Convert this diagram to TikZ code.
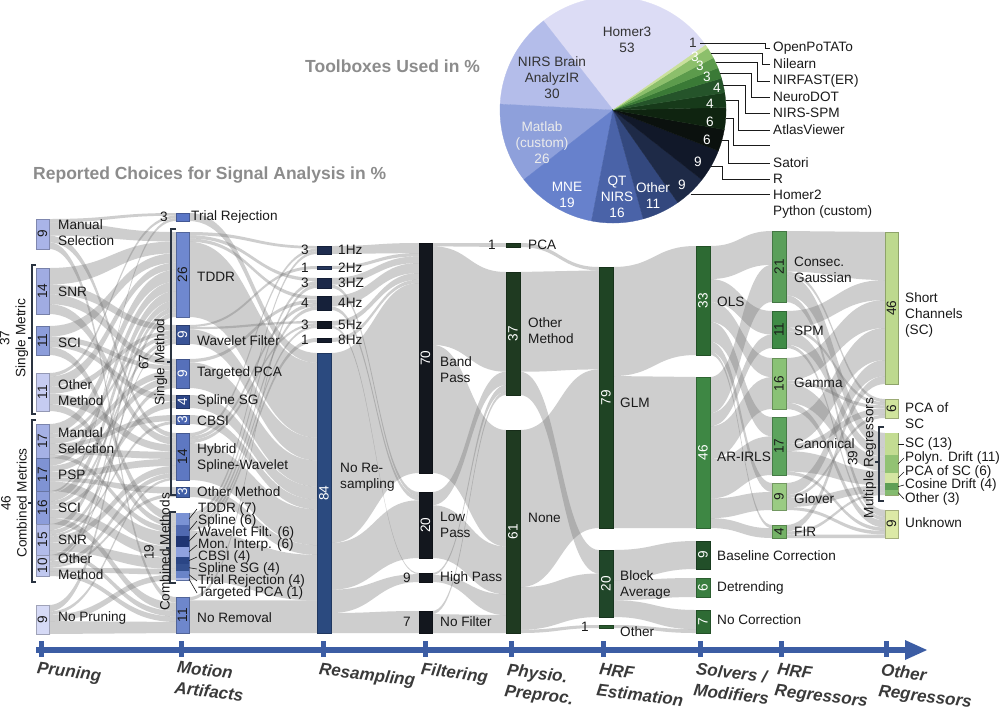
\documentclass[tikz,border=0pt]{standalone}
\usepackage{fontspec}
\setmainfont{Liberation Sans}
\newcommand\lblfont{\fontsize{13.6}{16}\selectfont}
\newif\ifdrawpass
\definecolor{txt}{HTML}{1A1A1A}
\definecolor{ttlgray}{HTML}{8C8C8C}
\definecolor{axisblue}{HTML}{3C5DA4}
\definecolor{axtxt}{HTML}{3A3A3A}
\definecolor{brkc}{HTML}{2A3340}
\definecolor{cMS}{HTML}{A9B4E8}\definecolor{cSNR}{HTML}{A0ACE2}\definecolor{cSCI}{HTML}{8C9DDA}
\definecolor{cOM}{HTML}{C6CCF1}\definecolor{cCMS}{HTML}{A5B1E5}\definecolor{cCPSP}{HTML}{7F93D3}
\definecolor{cCSCI}{HTML}{8C9DDA}\definecolor{cCSNR}{HTML}{B2BCEA}\definecolor{cCOM}{HTML}{C0C8EF}
\definecolor{cNP}{HTML}{D6DAF6}
\definecolor{cTR}{HTML}{5A76C6}\definecolor{cTDDR}{HTML}{6F88CF}\definecolor{cWF}{HTML}{3A5497}
\definecolor{cTPCA}{HTML}{5670BA}\definecolor{cSSG}{HTML}{2C4587}\definecolor{cCBSI}{HTML}{4A66B2}
\definecolor{cHSW}{HTML}{5E78C2}\definecolor{cOMm}{HTML}{4160A8}\definecolor{cNR}{HTML}{6E87CC}
\definecolor{cba}{HTML}{7A92D4}\definecolor{cbb}{HTML}{5069B0}\definecolor{cbc}{HTML}{1F3573}
\definecolor{cbd}{HTML}{8FA2DF}\definecolor{cbe}{HTML}{2A4585}\definecolor{cbf}{HTML}{34508F}
\definecolor{cbg}{HTML}{6A84C8}\definecolor{cbh}{HTML}{A9B6E6}
\definecolor{cRa}{HTML}{1E2C4E}\definecolor{cRb}{HTML}{26365C}\definecolor{cRc}{HTML}{1C2949}
\definecolor{cRd}{HTML}{16213A}\definecolor{cRe}{HTML}{111722}\definecolor{cRf}{HTML}{141B2B}
\definecolor{cNRS}{HTML}{2B4A7F}
\definecolor{cF}{HTML}{13171E}\definecolor{cP}{HTML}{1F3A21}
\definecolor{cGLM}{HTML}{1F4424}\definecolor{cBA}{HTML}{204629}\definecolor{cOth}{HTML}{2A5A2F}
\definecolor{cOLS}{HTML}{2D6A33}\definecolor{cAR}{HTML}{3E8744}\definecolor{cBC}{HTML}{224F29}
\definecolor{cDT}{HTML}{3A7E40}\definecolor{cNC}{HTML}{2E6B34}
\definecolor{cCG}{HTML}{5A9F5A}\definecolor{cSPM}{HTML}{3F8B46}\definecolor{cGAM}{HTML}{8AC276}
\definecolor{cCAN}{HTML}{5CA45D}\definecolor{cGLV}{HTML}{9ACB83}\definecolor{cFIR}{HTML}{74B266}
\definecolor{cSC}{HTML}{BDD98E}\definecolor{cPSC}{HTML}{D0E49D}\definecolor{cUNK}{HTML}{DCE9A6}
\definecolor{cma}{HTML}{C3DC92}\definecolor{cmb}{HTML}{92C273}\definecolor{cmc}{HTML}{D4E6A2}
\definecolor{cmd}{HTML}{5E9E55}\definecolor{cme}{HTML}{84BB6F}
\definecolor{pA}{HTML}{DCDCF5}\definecolor{pB}{HTML}{B4BDEA}\definecolor{pC}{HTML}{8EA0DB}
\definecolor{pD}{HTML}{6781CC}\definecolor{pE}{HTML}{4A63A8}\definecolor{pF}{HTML}{33487E}
\definecolor{pG}{HTML}{1E2A47}\definecolor{pH}{HTML}{111829}\definecolor{pI}{HTML}{0B110E}
\definecolor{pJ}{HTML}{0F2410}\definecolor{pK}{HTML}{173A1A}\definecolor{pL}{HTML}{25542A}
\definecolor{pM}{HTML}{3A7A36}\definecolor{pN}{HTML}{5C9B4C}\definecolor{pO}{HTML}{8CBF6B}
\definecolor{pP}{HTML}{C9E09B}

\newcommand\regnode[5]{%
  \pgfmathsetmacro\rnh{#5-#4}%
  \expandafter\xdef\csname nxl@#1\endcsname{#2}%
  \expandafter\xdef\csname nxr@#1\endcsname{#3}%
  \expandafter\xdef\csname nh@#1\endcsname{\rnh}%
  \expandafter\xdef\csname co@#1\endcsname{#4}%
  \expandafter\xdef\csname ci@#1\endcsname{#4}%
  \expandafter\xdef\csname to@#1\endcsname{0}%
  \expandafter\xdef\csname ti@#1\endcsname{0}}

\newcommand\flow[3]{%
  \ifdrawpass
    \edef\rbA{\csname co@#1\endcsname}%
    \edef\rbB{\csname ci@#2\endcsname}%
    \edef\rbhA{\csname nh@#1\endcsname}%
    \edef\rbhB{\csname nh@#2\endcsname}%
    \edef\rbtA{\csname to@#1\endcsname}%
    \edef\rbtB{\csname ti@#2\endcsname}%
    \edef\rbxA{\csname nxr@#1\endcsname}%
    \edef\rbxB{\csname nxl@#2\endcsname}%
    \pgfmathsetmacro\rbAA{\rbA+#3*\rbhA/\rbtA}%
    \pgfmathsetmacro\rbBB{\rbB+#3*\rbhB/\rbtB}%
    \pgfmathsetmacro\rbxM{(\rbxA+\rbxB)/2}%
    \expandafter\xdef\csname co@#1\endcsname{\rbAA}%
    \expandafter\xdef\csname ci@#2\endcsname{\rbBB}%
    \fill[ribbon] (\rbxA,\rbA) .. controls (\rbxM,\rbA) and (\rbxM,\rbB) .. (\rbxB,\rbB) -- (\rbxB,\rbBB) .. controls (\rbxM,\rbBB) and (\rbxM,\rbAA) .. (\rbxA,\rbAA) -- cycle;
  \else
    \edef\rbtA{\csname to@#1\endcsname}%
    \edef\rbtB{\csname ti@#2\endcsname}%
    \pgfmathsetmacro\rbtAn{\rbtA+#3}%
    \pgfmathsetmacro\rbtBn{\rbtB+#3}%
    \expandafter\xdef\csname to@#1\endcsname{\rbtAn}%
    \expandafter\xdef\csname ti@#2\endcsname{\rbtBn}%
  \fi}

\newcommand\sbar[8]{%
  \ifdrawpass
    \fill[#6, draw=#6!75!black, line width=0.5pt] (#2,#4) rectangle (#3,#5);
    \if\relax\detokenize{#7}\relax\else
      \node[num, text=#8] (#1-n) at ({(#2+#3)/2},{(#4+#5)/2}) {#7};
    \fi
  \else
    \regnode{#1}{#2}{#3}{#4}{#5}%
  \fi}

\newcommand\pieslice[3]{\fill[#3, draw=#3, line width=0.3pt] (613,110) -- plot[domain=#1:#2, samples=40, variable=\t] ({613+113*cos(\t)},{110-113*sin(\t)}) -- cycle;}

\begin{document}
\begin{tikzpicture}[x=1pt,y=-1pt,
  ribbon/.style={fill=black!55, fill opacity=0.35},
  num/.style={rotate=90, font=\lblfont, inner sep=0pt},
  lbl/.style={anchor=west, align=left, font=\lblfont, text=txt, inner sep=0pt},
  lblr/.style={anchor=east, font=\lblfont, text=txt, inner sep=0pt},
  brk/.style={draw=brkc, line width=1.1pt},
  lead/.style={draw=txt, line width=0.6pt},
  rot/.style={rotate=90, align=center, font=\lblfont, text=txt, inner sep=0pt},
  pt/.style={align=center, font=\lblfont, inner sep=0pt},
  pline/.style={draw=txt, line width=0.8pt},
  ttl/.style={anchor=west, font=\fontsize{17.5}{20}\selectfont\bfseries, text=ttlgray, inner sep=0pt},
  axl/.style={font=\fontsize{17}{21}\selectfont\bfseries\itshape, text=axtxt, anchor=north west, rotate=-7, align=left, inner sep=0pt},
  axisc/.style={fill=axisblue}]
\useasboundingbox (0,0) rectangle (1000,713);
\fill[white] (0,0) rectangle (1000,713);

\def\allbars{%
\sbar{ms}{36}{49}{219}{249}{cMS}{9}{txt}
\sbar{snr}{36}{49}{268}{314}{cSNR}{14}{txt}
\sbar{sci}{36}{49}{326}{355}{cSCI}{11}{txt}
\sbar{om}{36}{49}{373}{411}{cOM}{11}{txt}
\sbar{cms}{36}{49}{424}{458}{cCMS}{17}{txt}
\sbar{cpsp}{36}{49}{458}{491}{cCPSP}{17}{txt}
\sbar{csci}{36}{49}{491}{524}{cCSCI}{16}{txt}
\sbar{csnr}{36}{49}{524}{555}{cCSNR}{15}{txt}
\sbar{com}{36}{49}{555}{576}{cCOM}{10}{txt}
\sbar{np}{36}{49}{605}{634}{cNP}{9}{txt}
\sbar{tr}{176}{189}{213}{221}{cTR}{}{}
\sbar{tddr}{176}{189}{232}{317}{cTDDR}{26}{txt}
\sbar{wf}{176}{189}{325}{344}{cWF}{9}{white}
\sbar{tpca}{176}{189}{359}{388}{cTPCA}{9}{white}
\sbar{ssg}{176}{189}{395}{408}{cSSG}{4}{white}
\sbar{cbsi}{176}{189}{415}{424}{cCBSI}{3}{white}
\sbar{hsw}{176}{189}{433}{480}{cHSW}{14}{txt}
\sbar{omm}{176}{189}{487}{497}{cOMm}{3}{white}
\sbar{comb}{176}{189}{513}{580}{cba}{}{}
\sbar{nr}{176}{189}{597}{633}{cNR}{11}{txt}
\sbar{ra}{317}{331}{246}{254}{cRa}{}{}
\sbar{rb}{317}{331}{266}{269}{cRb}{}{}
\sbar{rc}{317}{331}{278}{288}{cRc}{}{}
\sbar{rd}{317}{331}{296}{310}{cRd}{}{}
\sbar{re}{317}{331}{321}{328}{cRe}{}{}
\sbar{rf}{317}{331}{338}{342}{cRf}{}{}
\sbar{nrs}{317}{331}{353}{633}{cNRS}{84}{white}
\sbar{bp}{419}{432}{243}{473}{cF}{70}{white}
\sbar{lp}{419}{432}{492}{558}{cF}{20}{white}
\sbar{hp}{419}{432}{573}{582}{cF}{}{}
\sbar{nf}{419}{432}{611}{633}{cF}{}{}
\sbar{pca}{506}{520}{243}{247}{cP}{}{}
\sbar{omp}{506}{520}{272}{395}{cP}{37}{white}
\sbar{none}{506}{520}{430}{633}{cP}{61}{white}
\sbar{glm}{599}{613}{267}{528}{cGLM}{79}{white}
\sbar{ba}{599}{613}{550}{617}{cBA}{20}{white}
\sbar{oth}{599}{613}{625}{628}{cOth}{}{}
\sbar{ols}{696}{710}{246}{355}{cOLS}{33}{white}
\sbar{ar}{696}{710}{377}{528}{cAR}{46}{white}
\sbar{bc}{696}{710}{541}{569}{cBC}{9}{white}
\sbar{dt}{696}{710}{578}{597}{cDT}{6}{white}
\sbar{nc}{696}{710}{610}{633}{cNC}{7}{white}
\sbar{cg}{772}{786}{231}{302}{cCG}{21}{txt}
\sbar{spm}{772}{786}{311}{348}{cSPM}{11}{txt}
\sbar{gam}{772}{786}{358}{409}{cGAM}{16}{txt}
\sbar{can}{772}{786}{417}{475}{cCAN}{17}{txt}
\sbar{glv}{772}{786}{483}{510}{cGLV}{9}{txt}
\sbar{fir}{772}{786}{525}{538}{cFIR}{4}{txt}
\sbar{sc}{885}{898}{232}{384}{cSC}{46}{txt}
\sbar{psc}{885}{898}{399}{418}{cPSC}{6}{txt}
\sbar{mr}{885}{898}{433}{495}{cma}{}{}
\sbar{unk}{885}{898}{510}{538}{cUNK}{9}{txt}
}

\def\allflows{%
\flow{ms}{tr}{1}\flow{ms}{tddr}{4}\flow{ms}{hsw}{2}\flow{ms}{nr}{2}
\flow{snr}{tddr}{5}\flow{snr}{wf}{3}\flow{snr}{tpca}{3}\flow{snr}{hsw}{3}
\flow{sci}{tddr}{4}\flow{sci}{tpca}{2}\flow{sci}{ssg}{2}\flow{sci}{comb}{3}
\flow{om}{tr}{1}\flow{om}{tddr}{3}\flow{om}{wf}{2}\flow{om}{hsw}{3}\flow{om}{comb}{2}
\flow{cms}{tddr}{5}\flow{cms}{wf}{2}\flow{cms}{tpca}{3}\flow{cms}{cbsi}{2}\flow{cms}{hsw}{3}\flow{cms}{comb}{2}
\flow{cpsp}{tddr}{4}\flow{cpsp}{tpca}{3}\flow{cpsp}{hsw}{3}\flow{cpsp}{omm}{2}\flow{cpsp}{comb}{5}
\flow{csci}{tr}{1}\flow{csci}{tddr}{4}\flow{csci}{wf}{2}\flow{csci}{ssg}{2}\flow{csci}{comb}{4}\flow{csci}{nr}{3}
\flow{csnr}{tddr}{3}\flow{csnr}{tpca}{2}\flow{csnr}{cbsi}{1}\flow{csnr}{hsw}{3}\flow{csnr}{comb}{4}\flow{csnr}{nr}{2}
\flow{com}{tddr}{2}\flow{com}{wf}{1}\flow{com}{hsw}{2}\flow{com}{omm}{1}\flow{com}{comb}{2}\flow{com}{nr}{2}
\flow{np}{tddr}{2}\flow{np}{hsw}{1}\flow{np}{comb}{2}\flow{np}{nr}{4}
\flow{tr}{nrs}{3}
\flow{tddr}{ra}{1}\flow{tddr}{rc}{1}\flow{tddr}{rd}{1}\flow{tddr}{nrs}{23}
\flow{wf}{rb}{1}\flow{wf}{re}{1}\flow{wf}{nrs}{7}
\flow{tpca}{rd}{1}\flow{tpca}{nrs}{8}
\flow{ssg}{nrs}{4}
\flow{cbsi}{nrs}{3}
\flow{hsw}{ra}{1}\flow{hsw}{rd}{1}\flow{hsw}{re}{1}\flow{hsw}{nrs}{11}
\flow{omm}{nrs}{3}
\flow{comb}{ra}{1}\flow{comb}{rc}{1}\flow{comb}{rd}{1}\flow{comb}{re}{1}\flow{comb}{rf}{1}\flow{comb}{nrs}{14}
\flow{nr}{rc}{1}\flow{nr}{nrs}{10}
\flow{ra}{bp}{3}\flow{rb}{bp}{1}\flow{rc}{bp}{2}\flow{rc}{lp}{1}\flow{rd}{bp}{3}\flow{rd}{lp}{1}
\flow{re}{bp}{2}\flow{re}{hp}{1}\flow{rf}{bp}{1}
\flow{nrs}{bp}{57}\flow{nrs}{lp}{14}\flow{nrs}{hp}{7}\flow{nrs}{nf}{6}
\flow{bp}{pca}{1}\flow{bp}{omp}{30}\flow{bp}{none}{39}
\flow{lp}{omp}{4}\flow{lp}{none}{16}
\flow{hp}{omp}{2}\flow{hp}{none}{7}
\flow{nf}{omp}{1}\flow{nf}{none}{6}
\flow{pca}{glm}{1}
\flow{omp}{glm}{30}\flow{omp}{ba}{7}
\flow{none}{glm}{48}\flow{none}{ba}{13}\flow{none}{oth}{1}
\flow{glm}{ols}{33}\flow{glm}{ar}{46}
\flow{ba}{bc}{9}\flow{ba}{dt}{6}\flow{ba}{nc}{5}
\flow{oth}{nc}{1}
\flow{ols}{cg}{10}\flow{ols}{spm}{7}\flow{ols}{gam}{6}\flow{ols}{can}{6}\flow{ols}{glv}{3}\flow{ols}{fir}{1}
\flow{ar}{cg}{11}\flow{ar}{spm}{4}\flow{ar}{gam}{10}\flow{ar}{can}{12}\flow{ar}{glv}{6}\flow{ar}{fir}{3}
\flow{cg}{sc}{12}\flow{cg}{psc}{1}\flow{cg}{mr}{6}\flow{cg}{unk}{2}
\flow{spm}{sc}{5}\flow{spm}{psc}{1}\flow{spm}{mr}{4}\flow{spm}{unk}{1}
\flow{gam}{sc}{7}\flow{gam}{psc}{1}\flow{gam}{mr}{6}\flow{gam}{unk}{2}
\flow{can}{sc}{8}\flow{can}{psc}{2}\flow{can}{mr}{6}\flow{can}{unk}{1}
\flow{glv}{sc}{4}\flow{glv}{psc}{1}\flow{glv}{mr}{3}\flow{glv}{unk}{1}
\flow{fir}{sc}{2}\flow{fir}{mr}{1}\flow{fir}{unk}{1}
}

\drawpassfalse
\allbars
\allflows
\drawpasstrue
\allflows
\allbars

% stacked segments: combined methods
\fill[cba] (176,513) rectangle (189,525.3);
\fill[cbb] (176,525.3) rectangle (189,535.9);
\fill[cbc] (176,535.9) rectangle (189,546.5);
\fill[cbd] (176,546.5) rectangle (189,557.1);
\fill[cbe] (176,557.1) rectangle (189,564.1);
\fill[cbf] (176,564.1) rectangle (189,571.2);
\fill[cbg] (176,571.2) rectangle (189,578.2);
\fill[cbh] (176,578.2) rectangle (189,580);
% stacked segments: multiple regressors
\fill[cma] (885,433) rectangle (898,454.8);
\fill[cmb] (885,454.8) rectangle (898,473.2);
\fill[cmc] (885,473.2) rectangle (898,483.3);
\fill[cmd] (885,483.3) rectangle (898,490);
\fill[cme] (885,490) rectangle (898,495);

% brackets
\draw[brk] (36,265) -- (32,265) -- (32,414) -- (36,414) (32,338) -- (28,338);
\draw[brk] (36,420) -- (32,420) -- (32,582) -- (36,582) (32,503) -- (28,503);
\draw[brk] (176,229) -- (171,229) -- (171,495) -- (176,495) (171,362) -- (167,362);
\draw[brk] (176,512) -- (170,512) -- (170,583) -- (176,583) (170,548) -- (166,548);
\draw[brk] (884,427) -- (879,427) -- (879,501) -- (884,501) (879,462) -- (875,462);
\node[rot] (b-single) at (14,338) {37\\Single Metric};
\node[rot] (b-comb) at (14,503) {46\\Combined Metrics};
\node[rot] (b-smeth) at (153,362) {67\\Single Method};
\node[rot] (b-cmeth) at (157,552) {19\\Combined Methods};
\node[rot] (b-multi) at (862,458) {39\\Multiple Regressors};

% column 1 labels
\node[lbl] (ms-l) at (58,233) {Manual\\Selection};
\node[lbl] (snr-l) at (58,292) {SNR};
\node[lbl] (sci-l) at (58,343) {SCI};
\node[lbl] (om-l) at (58,393) {Other\\Method};
\node[lbl] (cms-l) at (58,441) {Manual\\Selection};
\node[lbl] (cpsp-l) at (58,475) {PSP};
\node[lbl] (csci-l) at (58,508) {SCI};
\node[lbl] (csnr-l) at (58,540) {SNR};
\node[lbl] (com-l) at (58,567) {Other\\Method};
\node[lbl] (np-l) at (58,618) {No Pruning};
% column 2 labels
\node[lblr] (tr-v) at (168,217) {3};
\node[lbl] (tr-l) at (191,217) {Trial Rejection};
\node[lbl] (tddr-l) at (197,277) {TDDR};
\node[lbl] (wf-l) at (197,341) {Wavelet Filter};
\node[lbl] (tpca-l) at (197,373) {Targeted PCA};
\node[lbl] (ssg-l) at (197,401) {Spline SG};
\node[lbl] (cbsi-l) at (197,421) {CBSI};
\node[lbl] (hsw-l) at (197,458) {Hybrid\\Spline-Wavelet};
\node[lbl] (omm-l) at (197,492) {Other Method};
\node[lbl] (nr-l) at (197,618) {No Removal};
\node[lbl] (cm1) at (198,509) {TDDR (7)};
\node[lbl] (cm2) at (198,521) {Spline (6)};
\node[lbl] (cm3) at (198,533) {Wavelet Filt. (6)};
\node[lbl] (cm4) at (198,545) {Mon. Interp. (6)};
\node[lbl] (cm5) at (198,557) {CBSI (4)};
\node[lbl] (cm6) at (198,569) {Spline SG (4)};
\node[lbl] (cm7) at (198,581) {Trial Rejection (4)};
\node[lbl] (cm8) at (198,593) {Targeted PCA (1)};
\coordinate (cs1) at (189,519);\coordinate (cs2) at (189,530.6);\coordinate (cs3) at (189,541.2);
\coordinate (cs4) at (189,551.8);\coordinate (cs5) at (189,560.6);\coordinate (cs6) at (189,567.7);
\coordinate (cs7) at (189,574.7);\coordinate (cs8) at (189,579.1);
\foreach \i in {1,...,8} {\draw[lead] (cs\i) -- ([xshift=-1pt]cm\i.west);}
% column 3 labels
\node[lblr] (ra-v) at (309,250) {3};
\node[lblr] (rb-v) at (309,267.5) {1};
\node[lblr] (rc-v) at (309,283) {3};
\node[lblr] (rd-v) at (309,303) {4};
\node[lblr] (re-v) at (309,324.5) {3};
\node[lblr] (rf-v) at (309,340) {1};
\node[lbl] (ra-l) at (338,250) {1Hz};
\node[lbl] (rb-l) at (338,267.5) {2Hz};
\node[lbl] (rc-l) at (338,283) {3HZ};
\node[lbl] (rd-l) at (338,303) {4Hz};
\node[lbl] (re-l) at (338,324.5) {5Hz};
\node[lbl] (rf-l) at (338,340) {8Hz};
\node[lbl] (nrs-l) at (340,477) {No Re-\\sampling};
% column 4 labels
\node[lblr] (hp-v) at (411,578) {9};
\node[lblr] (nf-v) at (411,622) {7};
\node[lbl] (bp-l) at (440,370) {Band\\Pass};
\node[lbl] (lp-l) at (440,525) {Low\\Pass};
\node[lbl] (hp-l) at (440,578) {High Pass};
\node[lbl] (nf-l) at (440,622) {No Filter};
% column 5 labels
\node[lblr] (pca-v) at (496,245) {1};
\node[lbl] (pca-l) at (528,245) {PCA};
\node[lbl] (omp-l) at (528,331) {Other\\Method};
\node[lbl] (none-l) at (528,518) {None};
% column 6 labels
\node[lblr] (oth-v) at (589,627) {1};
\node[lbl] (glm-l) at (620,403) {GLM};
\node[lbl] (ba-l) at (620,585) {Block\\Average};
\node[lbl] (oth-l) at (620,632) {Other};
% column 7 labels
\node[lbl] (ols-l) at (717,302) {OLS};
\node[lbl] (ar-l) at (717,457) {AR-IRLS};
\node[lbl] (bc-l) at (717,556) {Baseline Correction};
\node[lbl] (dt-l) at (717,588) {Detrending};
\node[lbl] (nc-l) at (717,620) {No Correction};
% column 8 labels
\node[lbl] (cg-l) at (794,270) {Consec.\\Gaussian};
\node[lbl] (spm-l) at (794,331) {SPM};
\node[lbl] (gam-l) at (794,383) {Gamma};
\node[lbl] (can-l) at (794,444) {Canonical};
\node[lbl] (glv-l) at (794,499) {Glover};
\node[lbl] (fir-l) at (794,532) {FIR};
% column 9 labels
\node[lbl] (sc-l) at (905,315) {Short\\Channels\\(SC)};
\node[lbl] (psc-l) at (905,416) {PCA of\\SC};
\node[lbl] (unk-l) at (905,523) {Unknown};
\node[lbl] (mr1) at (905,444) {SC (13)};
\node[lbl] (mr2) at (905,458) {Polyn. Drift (11)};
\node[lbl] (mr3) at (905,472) {PCA of SC (6)};
\node[lbl] (mr4) at (905,485) {Cosine Drift (4)};
\node[lbl] (mr5) at (905,499) {Other (3)};
\coordinate (ms1) at (898,444);\coordinate (ms2) at (898,464);\coordinate (ms3) at (898,478);
\coordinate (ms4) at (898,486.6);\coordinate (ms5) at (898,492.5);
\foreach \i in {1,...,5} {\draw[lead] (ms\i) -- ([xshift=-1pt]mr\i.west);}

% axis
\fill[axisc] (36,647) rectangle (907,653);
\fill[axisc] (905,640) -- (927,650) -- (905,660) -- cycle;
\foreach \tx in {41,181,323,425,511,603,700,781,886} {\fill[axisc] (\tx-2.5,641) rectangle (\tx+2.5,657);}
\node[axl] (ax1) at (38,661) {Pruning};
\node[axl] (ax2) at (178,660) {Motion\\Artifacts};
\node[axl] (ax3) at (320,662) {Resampling};
\node[axl] (ax4) at (422,662) {Filtering};
\node[axl] (ax5) at (508,663) {Physio.\\Preproc.};
\node[axl] (ax6) at (600,663) {HRF\\Estimation};
\node[axl] (ax7) at (697,662) {Solvers /\\Modifiers};
\node[axl] (ax8) at (778,663) {HRF\\Regressors};
\node[axl] (ax9) at (882,663) {Other\\Regressors};

% titles
\node[ttl] (t-tool) at (305,66) {Toolboxes Used in \%};
\node[ttl] (t-rep) at (33,175) {Reported Choices for Signal Analysis in \%};

% pie
\pieslice{35}{128}{pA}
\pieslice{128}{177}{pB}
\pieslice{177}{218}{pC}
\pieslice{218}{259}{pD}
\pieslice{259}{285.5}{pE}
\pieslice{285.5}{305}{pF}
\pieslice{305}{321.9}{pG}
\pieslice{321.9}{338.8}{pH}
\pieslice{338.8}{350}{pI}
\pieslice{350}{361.3}{pJ}
\pieslice{361.3}{368.8}{pK}
\pieslice{368.8}{376.3}{pL}
\pieslice{376.3}{381.9}{pM}
\pieslice{381.9}{387.5}{pN}
\pieslice{387.5}{393.1}{pO}
\pieslice{393.1}{395}{pP}
\node[pt, text=black!80] (p-homer3) at (627,40) {Homer3\\53};
\node[pt, text=black!80] (p-nirs) at (552,78) {NIRS Brain\\AnalyzIR\\30};
\node[pt, text=white!92!black] (p-matlab) at (542,143) {Matlab\\(custom)\\26};
\node[pt, text=white] (p-mne) at (567,195) {MNE\\19};
\node[pt, text=white] (p-qt) at (617,197) {QT\\NIRS\\16};
\node[pt, text=white] (p-other) at (653,196) {Other\\11};
\node[pt, text=black!80] (pn1) at (693,43) {1};
\node[pt, text=white] (pn2) at (695,57) {3};
\node[pt, text=white] (pn3) at (700,66) {3};
\node[pt, text=white] (pn4) at (707,77) {3};
\node[pt, text=white] (pn5) at (717,88) {4};
\node[pt, text=white] (pn6) at (710,104) {4};
\node[pt, text=white] (pn7) at (710,122) {6};
\node[pt, text=white] (pn8) at (707,140) {6};
\node[pt, text=white] (pn9) at (698,162) {9};
\node[pt, text=white] (pn10) at (682,185) {9};
% pie labels
\node[lbl] (l1) at (773,48) {OpenPoTATo};
\node[lbl] (l2) at (773,64) {Nilearn};
\node[lbl] (l3) at (773,81) {NIRFAST(ER)};
\node[lbl] (l4) at (773,97) {NeuroDOT};
\node[lbl] (l5) at (773,113) {NIRS-SPM};
\node[lbl] (l6) at (773,130) {AtlasViewer};
\coordinate (l7) at (773,145);
\node[lbl] (l8) at (773,163) {Satori};
\node[lbl] (l9) at (773,179) {R};
\node[lbl] (l10) at (773,195) {Homer2};
\node[lbl] (l11) at (773,212) {Python (custom)};
\coordinate (rim1) at (700,43);
\coordinate (rim2) at (710.6,53);
\coordinate (rim3) at (715.7,62.8);
\coordinate (rim4) at (719.8,73);
\coordinate (rim5) at (723.3,85.4);
\coordinate (rim6) at (725.6,100);
\coordinate (rim7) at (725.7,118.6);
\coordinate (rim8) at (721.8,140.4);
\coordinate (rim9) at (711.2,165.9);
\coordinate (rim10) at (690.7,194);
\draw[pline] (rim1) -- (765,43) |- ([xshift=-3pt]l1.west);
\draw[pline] (rim2) -- (762,53) |- ([xshift=-3pt]l2.west);
\draw[pline] (rim3) -- (757,62.8) |- ([xshift=-3pt]l3.west);
\draw[pline] (rim4) -- (751,73) |- ([xshift=-3pt]l4.west);
\draw[pline] (rim5) -- (745,85.4) |- ([xshift=-3pt]l5.west);
\draw[pline] (rim6) -- (738,100) |- ([xshift=-3pt]l6.west);
\draw[pline] (rim7) -- (733,118.6) |- ([xshift=-3pt]l7);
\draw[pline] (rim8) -- (728,140.4) |- ([xshift=-3pt]l8.west);
\draw[pline] (rim9) -- (722,165.9) |- ([xshift=-3pt]l9.west);
\draw[pline] (rim10) -- ([xshift=-3pt]rim10 -| l10.west);
\end{tikzpicture}
\end{document}
